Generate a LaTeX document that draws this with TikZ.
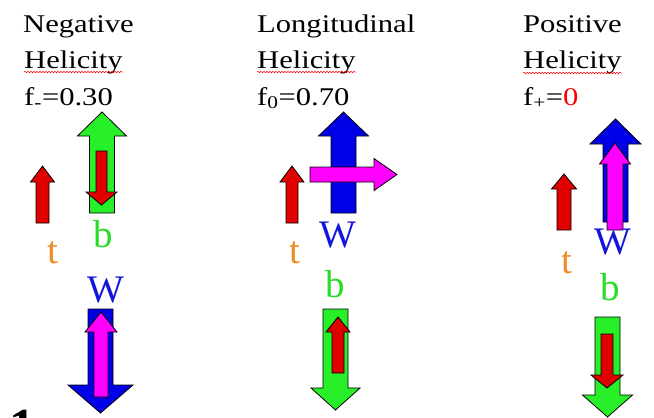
\documentclass[tikz,border=0pt]{standalone}
\usepackage{fontspec}
\setmainfont[FakeStretch=1.2]{Liberation Serif}
\newfontfamily\lbl{Liberation Serif}
\usetikzlibrary{decorations.pathmorphing}
\definecolor{arrred}{RGB}{225,0,0}
\definecolor{arrgreen}{RGB}{40,240,40}
\definecolor{arrblue}{RGB}{0,0,230}
\definecolor{arrmag}{RGB}{255,0,255}
\definecolor{torange}{RGB}{240,140,40}
\definecolor{bgreen}{RGB}{40,220,40}
\definecolor{wblue}{RGB}{20,20,220}
% vertical block arrow: x, tail y, head base y, tip y, half shaft, half head, colour
\newcommand{\varr}[7]{\filldraw[fill=#7,draw=black,line width=.8pt] (#1-#5,#2) -- (#1-#5,#3) -- (#1-#6,#3) -- (#1,#4) -- (#1+#6,#3) -- (#1+#5,#3) -- (#1+#5,#2) -- cycle;}
% horizontal block arrow: y, tail x, head base x, tip x, half shaft, half head, colour
\newcommand{\harr}[7]{\filldraw[fill=#7,draw=black,line width=.8pt] (#2,#1-#5) -- (#3,#1-#5) -- (#3,#1-#6) -- (#4,#1) -- (#3,#1+#6) -- (#3,#1+#5) -- (#2,#1+#5) -- cycle;}

\begin{document}
\begin{tikzpicture}[x=1pt,y=-1pt,
  title/.style={anchor=base west,inner sep=0,font=\fontsize{25.5}{30}\selectfont},
  lab/.style={inner sep=0,font=\lbl\fontsize{39}{44}\selectfont},
  wavy/.style={red,line width=.5pt,decorate,decoration={snake,amplitude=.7pt,segment length=3pt}}]
\useasboundingbox (0,0) rectangle (654,418);
\fill[white] (0,0) rectangle (654,418);

%Negative
\draw(23,32) node[title](neg){Negative};
\draw(24,68) node[title](hneg){Helicity};
\draw(24,105) node[title](fneg){f\textsubscript{-}=0.30};
\draw[wavy] ([yshift=-4pt]hneg.base west) -- ([yshift=-4pt]hneg.base east);
\varr{102}{213}{136}{112}{12.5}{24.5}{arrgreen}
\varr{101.5}{151}{192}{205}{5.5}{15.5}{arrred}
\varr{42.5}{223}{182}{166}{6.5}{12}{arrred}
\varr{100.5}{309}{385}{413}{12.5}{32.5}{arrblue}
\varr{101}{397}{332}{312}{7}{16}{arrmag}
\draw(103,234) node[lab,text=bgreen](bneg){b};
\draw(53,253) node[lab,text=torange](tneg){t};
\draw(106,290) node[lab,text=wblue](wneg){W};

%Longitudinal
\draw(257,32) node[title](lon){Longitudinal};
\draw(257,68) node[title](hlon){Helicity};
\draw(257,105) node[title](flon){f\textsubscript{0}=0.70};
\draw[wavy] ([yshift=-4pt]hlon.base west) -- ([yshift=-4pt]hlon.base east);
\varr{343.5}{213}{136}{112}{12.5}{25}{arrblue}
\harr{174.5}{310}{374}{397}{7.5}{16}{arrmag}
\varr{292}{223}{182}{166}{6}{12}{arrred}
\varr{335.5}{309}{388}{410}{12.5}{24.5}{arrgreen}
\varr{338}{373}{332}{317}{6}{12}{arrred}
\draw(338,235) node[lab,text=wblue](wlon){W};
\draw(295,253) node[lab,text=torange](tlon){t};
\draw(335,284) node[lab,text=bgreen](blon){b};

%Positive
\draw(523,32) node[title](pos){Positive};
\draw(523,68) node[title](hpos){Helicity};
\draw(523,105) node[title](fpos){f\textsubscript{+}=\textcolor{red}{0}};
\draw[wavy] ([yshift=-5pt]hpos.base west) -- ([yshift=-5pt]hpos.base east);
\varr{615.5}{222}{144}{119}{12.5}{25.5}{arrblue}
\varr{615}{230}{164}{143}{8}{15.5}{arrmag}
\varr{564}{230}{189}{174}{7}{12.5}{arrred}
\varr{607.5}{317}{395}{417}{12.5}{25}{arrgreen}
\varr{607}{334}{375}{388}{6}{16}{arrred}
\draw(613,242) node[lab,text=wblue](wpos){W};
\draw(567,263) node[lab,text=torange](tpos){t};
\draw(610,287) node[lab,text=bgreen](bpos){b};

%cut off at the bottom
\begin{scope}
\clip (0,0) rectangle (654,418);
\draw(9,444) node[anchor=base west,inner sep=0,font=\lbl\bfseries\fontsize{52}{58}\selectfont](one){1};
\end{scope}

\end{tikzpicture}
\end{document}
